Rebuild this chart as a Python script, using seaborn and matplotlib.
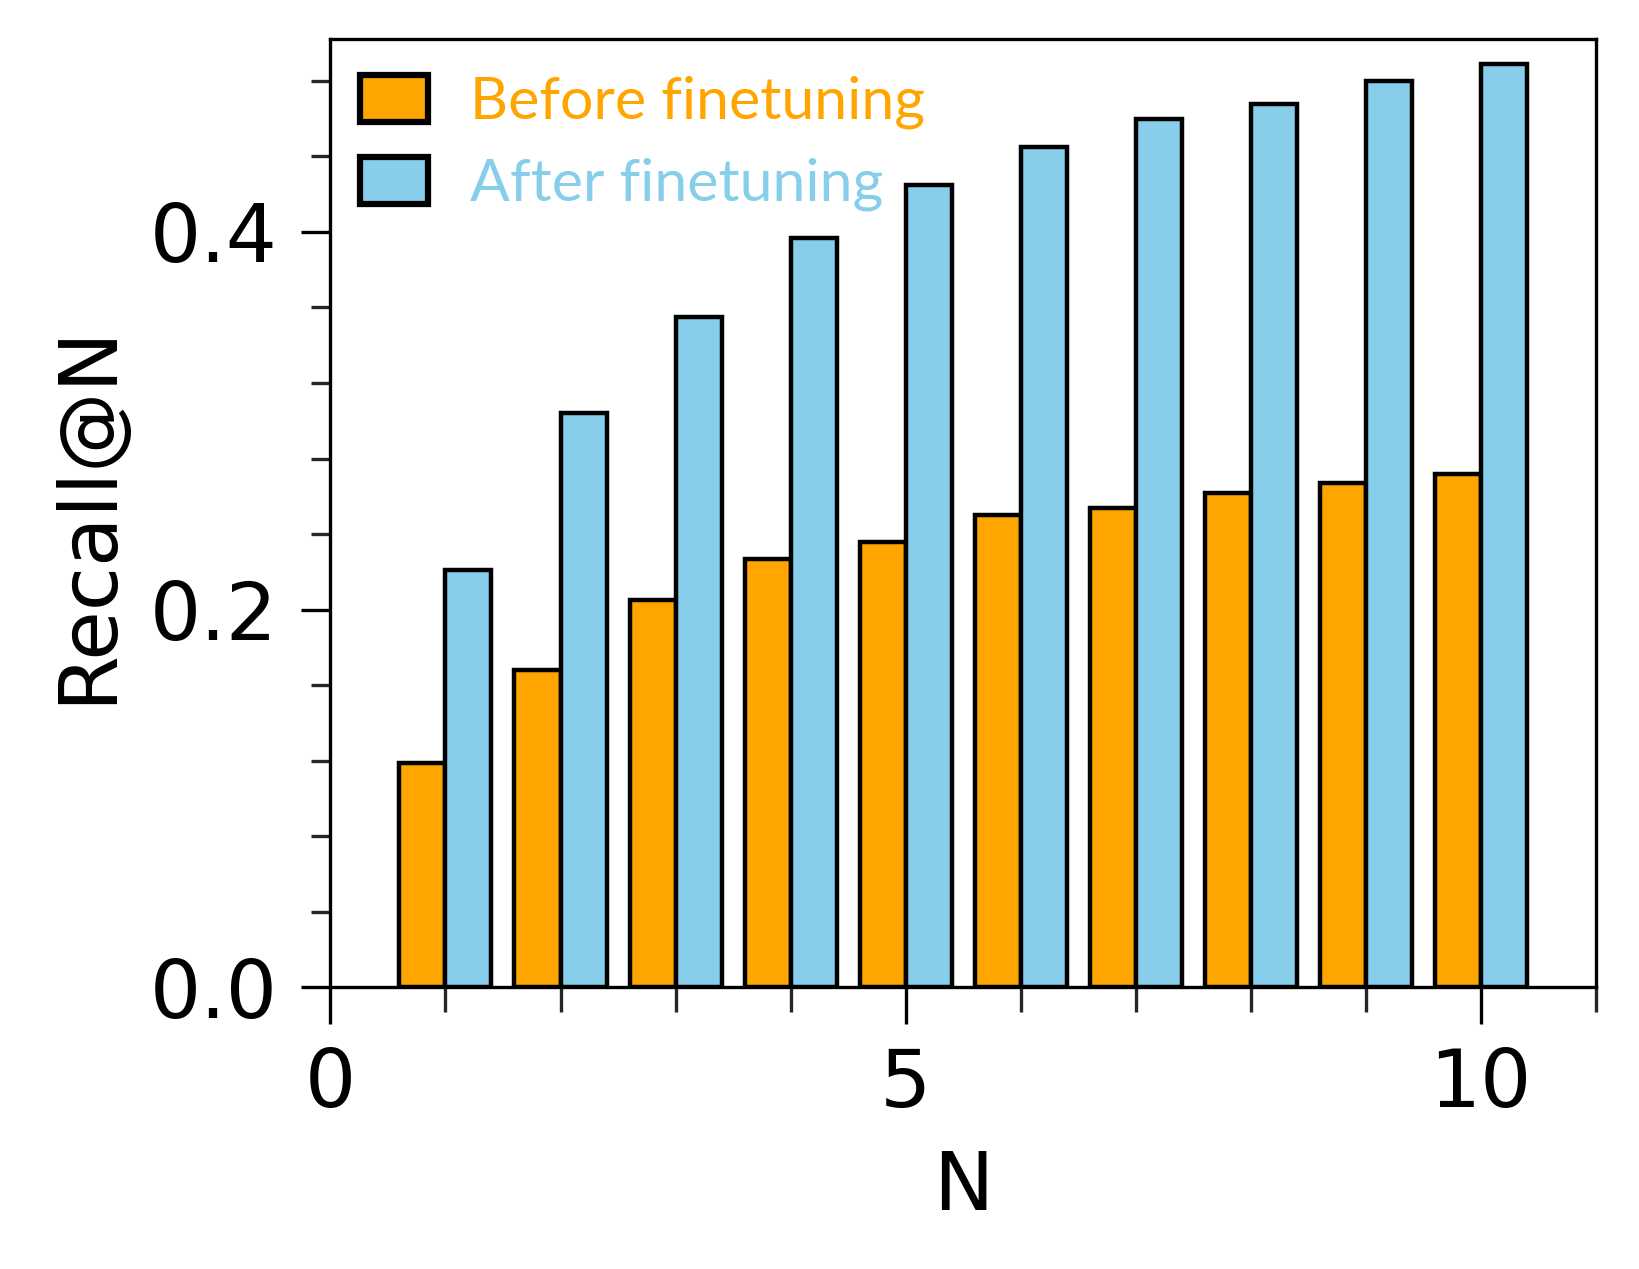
import numpy as np
import pandas as pd
import matplotlib
matplotlib.use("Agg")
import matplotlib.pyplot as plt
import seaborn as sns
from matplotlib.patches import Patch
from matplotlib.ticker import MultipleLocator

# ---- data ----
N_values = [1, 2, 3, 4, 5, 6, 7, 8, 9, 10]
before_finetuning = [0.119, 0.168, 0.205, 0.227, 0.236, 0.250, 0.254, 0.262, 0.267, 0.272]
after_finetuning = [0.221, 0.304, 0.355, 0.397, 0.425, 0.445, 0.460, 0.468, 0.480, 0.489]
series_names = ["Before finetuning", "After finetuning"]
series_colors = ["#FFA500", "#87CEEB"]

df = pd.DataFrame({
    "N": N_values * 2,
    "Recall": before_finetuning + after_finetuning,
    "Model": [series_names[0]] * len(N_values) + [series_names[1]] * len(N_values),
})

sns.set_style("ticks")
plt.rcParams["font.family"] = ["DejaVu Sans"]
plt.rcParams["text.color"] = "black"
plt.rcParams["axes.labelcolor"] = "black"

fig = plt.figure(figsize=(16.4, 12.69), dpi=100)
ax = fig.add_axes([0.2015, 0.222, 0.7715, 0.747])

sns.barplot(data=df, x="N", y="Recall", hue="Model", native_scale=True,
            palette=series_colors, hue_order=series_names,
            edgecolor="black", linewidth=3.2, saturation=1, legend=False,
            width=0.8, ax=ax)

ax.set_xlim(0, 11)
ax.set_ylim(0, 0.502)
ax.xaxis.set_major_locator(MultipleLocator(5))
ax.xaxis.set_minor_locator(MultipleLocator(1))
ax.yaxis.set_major_locator(MultipleLocator(0.2))
ax.yaxis.set_minor_locator(MultipleLocator(0.04))
ax.set_yticks([0.0, 0.2, 0.4])
ax.set_yticklabels(["0.0", "0.2", "0.4"])

for s in ax.spines.values():
    s.set_visible(True)
    s.set_linewidth(2.4)
    s.set_color("black")

ax.tick_params(axis="x", which="major", direction="out", length=26.5, width=2.4,
               labelsize=58, colors="black", pad=16)
ax.tick_params(axis="x", which="minor", direction="out", length=18, width=2.4)
ax.tick_params(axis="y", which="major", direction="out", length=21, width=2.4,
               labelsize=58, colors="black", pad=17)
ax.tick_params(axis="y", which="minor", direction="out", length=13.5, width=2.4)

ax.set_xlabel("N", fontsize=58, labelpad=18, color="black")
ax.set_ylabel("Recall@N", fontsize=58, labelpad=16, color="black")

handles = [Patch(facecolor=c, edgecolor="black", linewidth=4.5) for c in series_colors]
leg = ax.legend(handles, series_names, loc="upper left", frameon=False,
                bbox_to_anchor=(0.0, 0.994),
                prop={"family": "Lato", "size": 42.5},
                handlelength=1.15, handleheight=0.85, handletextpad=0.72,
                labelspacing=0.47, borderaxespad=0.2, borderpad=0.3)
for t, c in zip(leg.get_texts(), series_colors):
    t.set_color(c)

fig.savefig("out.png", dpi=100)
